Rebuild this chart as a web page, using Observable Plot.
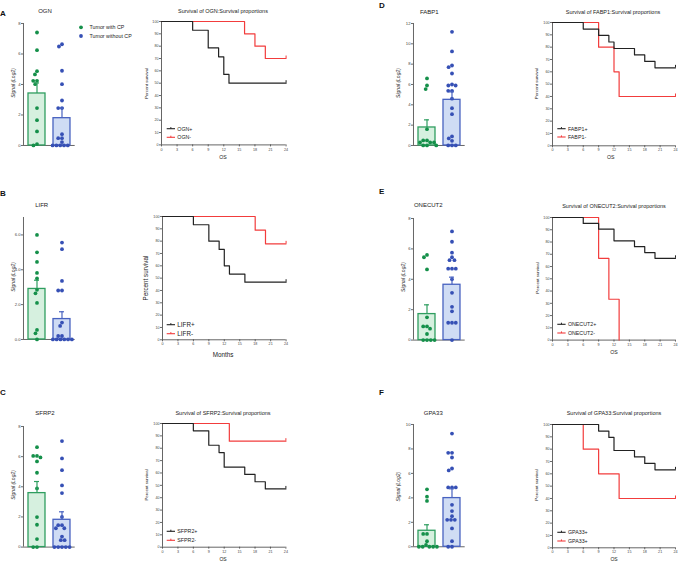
<!DOCTYPE html>
<html><head><meta charset="utf-8">
<script src="https://cdn.jsdelivr.net/npm/d3@7"></script>
<script src="https://cdn.jsdelivr.net/npm/@observablehq/plot@0.6"></script>
<style>
body{margin:0;background:#fff;}
#fig{position:relative;width:678px;height:562px;overflow:hidden;background:#fff;}
</style></head><body><div id="fig"></div>
<script>
// ---------------- DATA ----------------
const groups = ["Tumor with CP", "Tumor without CP"];

// bar charts: individual points, means, top of error bars
const ognWith = [7.41, 6.25, 4.87, 4.66, 4.24, 4.24, 4.02, 2.45, 1.66, 0.92, 0.09, 0];
const ognWithout = [6.64, 6.49, 4.9, 4.02, 2.95, 2.45, 2.45, 0.74, 0.48, 0.48, 0.22, 0, 0, 0, 0, 0];
const ognMean = [3.41, 1.79];
const ognTop = [4.1, 2.45];

const lifrWith = [6.0, 5.0, 4.45, 3.82, 3.5, 2.85, 2.65, 2.1, 0.55, 0.35, 0];
const lifrWithout = [5.56, 5.18, 3.36, 2.81, 2.81, 0.97, 0.78, 0.2, 0.2, 0, 0, 0, 0, 0, 0];
const lifrMean = [2.9, 1.17];
const lifrTop = [3.4, 1.59];

const sfrp2With = [6.63, 6.05, 6.05, 5.95, 5.68, 4.93, 3.89, 1.99, 1.48, 0.53, 0, 0];
const sfrp2Without = [7.03, 5.88, 5.1, 4.09, 3.58, 2.0, 1.45, 1.45, 1.25, 1.25, 0.7, 0.46, 0.46, 0, 0, 0, 0, 0];
const sfrp2Mean = [3.58, 1.81];
const sfrp2Top = [4.35, 2.34];

const fabp1With = [6.6, 5.9, 5.55, 1.6, 0.5, 0.5, 0.3, 0.3, 0.3, 0, 0, 0];
const fabp1Without = [11.18, 9.25, 7.87, 7.7, 7.08, 6.0, 5.9, 5.9, 5.38, 5.38, 4.6, 3.67, 3.08, 0.89, 0.69, 0.46, 0, 0, 0];
const fabp1Mean = [1.77, 4.49];
const fabp1Top = [2.52, 5.28];

const onecut2With = [5.6, 5.45, 4.65, 1.5, 0.9, 0.9, 0.75, 0.4, 0, 0, 0, 0];
const onecut2Without = [7.15, 6.47, 5.75, 5.45, 5.26, 5.26, 4.7, 4.7, 4.7, 4.0, 3.11, 2.19, 1.89, 1.14, 1.14, 1.14, 0];
const onecut2Mean = [1.71, 3.64];
const onecut2Top = [2.32, 4.14];

const gpa33With = [4.7, 4.1, 3.75, 1.05, 1.05, 0.45, 0.15, 0, 0, 0, 0, 0];
const gpa33Without = [9.26, 7.68, 7.68, 7.3, 6.4, 6.24, 4.85, 4.85, 4.85, 3.43, 2.92, 2.5, 2.2, 2.2, 2.2, 1.5, 0.46, 0, 0];
const gpa33Mean = [1.31, 3.98];
const gpa33Top = [1.8, 4.74];

const barTicks6 = [0, 2, 4, 6];
const barTicks8 = [0, 2, 4, 6, 8];
const barTicks10 = [0, 2, 4, 6, 8, 10];
const barTicks12 = [0, 2, 4, 6, 8, 10, 12];

// survival curves (time in months, percent survival)
const ognPosT = [0, 6, 9, 11, 12, 13, 24];
const ognPosS = [100, 92.9, 78.6, 71.4, 57.1, 50, 50];
const ognNegT = [0, 16, 18, 20, 24];
const ognNegS = [100, 90, 80, 70, 70];

const lifrPosT = [0, 6, 9, 11, 12, 13, 16, 24];
const lifrPosS = [100, 93.3, 80, 73.3, 60, 53.3, 46.7, 46.7];
const lifrNegT = [0, 18, 20, 24];
const lifrNegS = [100, 88.9, 77.8, 77.8];

const sfrp2PosT = [0, 6, 9, 11, 12, 16, 18, 20, 24];
const sfrp2PosS = [100, 94.1, 82.4, 76.5, 64.7, 58.8, 52.9, 47.1, 47.1];
const sfrp2NegT = [0, 13, 24];
const sfrp2NegS = [100, 85.7, 85.7];

const fabp1PosT = [0, 6, 9, 11, 12, 16, 18, 20, 24];
const fabp1PosS = [100, 94.7, 89.5, 84.2, 78.9, 73.7, 68.4, 63.2, 63.2];
const fabp1NegT = [0, 9, 12, 13, 24];
const fabp1NegS = [100, 80, 60, 40, 40];

const onecut2PosT = [0, 6, 9, 12, 16, 18, 20, 24];
const onecut2PosS = [100, 95.2, 90.5, 81, 76.2, 71.4, 66.7, 66.7];
const onecut2NegT = [0, 9, 11, 13];
const onecut2NegS = [100, 66.7, 33.3, 0];

const gpa33PosT = [0, 9, 11, 12, 16, 18, 20, 24];
const gpa33PosS = [100, 94.7, 89.5, 78.9, 73.7, 68.4, 63.2, 63.2];
const gpa33NegT = [0, 6, 9, 13, 24];
const gpa33NegS = [100, 80, 60, 40, 40];

const survTicksX = [0, 3, 6, 9, 12, 15, 18, 21, 24];
const survTicksY = [0, 10, 20, 30, 40, 50, 60, 70, 80, 90, 100];

// ---------------- STYLE ----------------
const FONT = '"Liberation Sans", Arial, Helvetica, sans-serif';
const dotColors = ["#15904a", "#3650b5"];
const barFills = ["#d6f0df", "#cfdcf4"];
const barStrokes = ["#2f9e60", "#4862c0"];
const curveColors = ["#222222", "#f23c3c"];
const axisCol = "#555";

const fig = document.getElementById("fig");

function place(svg, left, top) {
  svg.style.position = "absolute";
  svg.style.left = left + "px";
  svg.style.top = top + "px";
  fig.appendChild(svg);
}

function box(f, m) {
  return {
    left: f.x0 - m.l, top: f.y0 - m.t,
    width: f.x1 - f.x0 + m.l + m.r, height: f.y1 - f.y0 + m.t + m.b,
    marginLeft: m.l, marginTop: m.t, marginRight: m.r, marginBottom: m.b
  };
}

const plotStyle = (fs) => ({fontSize: fs, fontFamily: FONT, background: "transparent", overflow: "visible"});

function barChart(f, yDomain, yTicks, withV, withoutV, means, tops) {
  const b = box(f, {l: 20, t: 4, r: 4, b: 4});
  const dims = {
    width: b.width, height: b.height,
    marginLeft: b.marginLeft, marginTop: b.marginTop, marginRight: b.marginRight, marginBottom: b.marginBottom
  };
  // layer 1: axes
  place(Plot.plot({
    ...dims,
    x: {domain: [0, 1], axis: null, label: null},
    y: {domain: yDomain, label: null},
    style: plotStyle("4.2px"),
    marks: [
      Plot.ruleY([0], {stroke: axisCol, strokeWidth: 0.9}),
      Plot.ruleX([0], {stroke: axisCol, strokeWidth: 0.9}),
      Plot.axisY({ticks: yTicks, tickSize: 2, tickPadding: 1, color: "#444", strokeWidth: 0.8, label: null})
    ]
  }), b.left, b.top);

  const summary = groups.map((g, i) => ({group: g, mean: means[i], top: tops[i]}));
  const pts = [
    ...withV.map(v => ({group: groups[0], value: v})),
    ...withoutV.map(v => ({group: groups[1], value: v}))
  ];
  const fxScale = {domain: groups, padding: 0, axis: null, label: null};

  // layer 2: bars and individual points (one facet per group)
  const marks = [];
  groups.forEach((g, i) => {
    const s = summary.filter(d => d.group === g);
    const p = pts.filter(d => d.group === g);
    marks.push(Plot.barY(s, {fx: "group", y: "mean", fill: barFills[i], stroke: barStrokes[i], strokeWidth: 1.3, insetLeft: 4, insetRight: 4}));
    marks.push(Plot.dot(p, Plot.dodgeX({anchor: "middle", padding: 0, r: 1.9}, {fx: "group", y: "value", r: 1.9, fill: dotColors[i], stroke: "none"})));
  });
  place(Plot.plot({
    ...dims, fx: fxScale,
    y: {domain: yDomain, axis: null, label: null},
    style: plotStyle("4.2px"),
    marks
  }), b.left, b.top);

  // layer 3: error bars (mean to mean + SEM), centred in each bar
  const inBar = () => "bar";
  const emarks = [];
  groups.forEach((g, i) => {
    const s = summary.filter(d => d.group === g);
    emarks.push(Plot.ruleX(s, {fx: "group", x: inBar, y1: "mean", y2: "top", stroke: barStrokes[i], strokeWidth: 1.2}));
    emarks.push(Plot.tickY(s, {fx: "group", x: inBar, y: "top", stroke: barStrokes[i], strokeWidth: 1.2, insetLeft: 10, insetRight: 10}));
  });
  place(Plot.plot({
    ...dims, fx: fxScale,
    x: {domain: ["bar"], padding: 0, axis: null, label: null},
    y: {domain: yDomain, axis: null, label: null},
    style: plotStyle("4.2px"),
    marks: emarks
  }), b.left, b.top);
}

function survChart(f, curves) {
  const b = box(f, {l: 16, t: 4, r: 5, b: 10});
  const marks = [
    Plot.ruleX([0], {stroke: axisCol, strokeWidth: 0.9}),
    Plot.ruleY([0], {stroke: axisCol, strokeWidth: 0.9}),
    Plot.axisX({ticks: survTicksX, tickSize: 2, tickPadding: 1, color: "#444", strokeWidth: 0.8, label: null}),
    Plot.axisY({ticks: survTicksY, tickSize: 2, tickPadding: 1, color: "#444", strokeWidth: 0.8, label: null})
  ];
  // red (negative) first, black (positive) on top
  [1, 0].forEach(k => {
    const c = curves[k];
    const data = c.t.map((t, i) => ({t, s: c.s[i]}));
    marks.push(Plot.line(data, {x: "t", y: "s", curve: "step-after", stroke: curveColors[k], strokeWidth: 1.2}));
    const last = data.filter((d, i) => i === data.length - 1 && d.s > 0);
    marks.push(Plot.ruleX(last, {x: "t", y1: "s", y2: "s", insetTop: -2.5, stroke: curveColors[k], strokeWidth: 1}));
  });
  place(Plot.plot({
    width: b.width, height: b.height,
    marginLeft: b.marginLeft, marginTop: b.marginTop, marginRight: b.marginRight, marginBottom: b.marginBottom,
    x: {domain: [0, 24], label: null},
    y: {domain: [0, 100], label: null},
    style: plotStyle("3.7px"),
    marks
  }), b.left, b.top);
}

// ---------------- PANELS ----------------
barChart({x0: 23.3, x1: 75, y0: 22.7, y1: 144.7}, [0, 8], barTicks8, ognWith, ognWithout, ognMean, ognTop);
barChart({x0: 23.3, x1: 75, y0: 217.3, y1: 339.3}, [0, 7], barTicks6, lifrWith, lifrWithout, lifrMean, lifrTop);
barChart({x0: 23.3, x1: 75, y0: 425.7, y1: 546.3}, [0, 8], barTicks8, sfrp2With, sfrp2Without, sfrp2Mean, sfrp2Top);
barChart({x0: 413.3, x1: 465, y0: 22.7, y1: 144.7}, [0, 12], barTicks12, fabp1With, fabp1Without, fabp1Mean, fabp1Top);
barChart({x0: 412.7, x1: 464.4, y0: 217.7, y1: 339.3}, [0, 8], barTicks8, onecut2With, onecut2Without, onecut2Mean, onecut2Top);
barChart({x0: 412.7, x1: 464.4, y0: 424, y1: 546.3}, [0, 10], barTicks10, gpa33With, gpa33Without, gpa33Mean, gpa33Top);

survChart({x0: 160.7, x1: 285.3, y0: 21.3, y1: 144.7}, [{t: ognPosT, s: ognPosS}, {t: ognNegT, s: ognNegS}]);
survChart({x0: 161.7, x1: 285.3, y0: 216, y1: 339.3}, [{t: lifrPosT, s: lifrPosS}, {t: lifrNegT, s: lifrNegS}]);
survChart({x0: 162.3, x1: 285.7, y0: 423.3, y1: 547}, [{t: sfrp2PosT, s: sfrp2PosS}, {t: sfrp2NegT, s: sfrp2NegS}]);
survChart({x0: 552, x1: 675, y0: 22, y1: 145.3}, [{t: fabp1PosT, s: fabp1PosS}, {t: fabp1NegT, s: fabp1NegS}]);
survChart({x0: 552, x1: 675, y0: 216.7, y1: 339.3}, [{t: onecut2PosT, s: onecut2PosS}, {t: onecut2NegT, s: onecut2NegS}]);
survChart({x0: 552, x1: 675, y0: 423.7, y1: 547}, [{t: gpa33PosT, s: gpa33PosS}, {t: gpa33NegT, s: gpa33NegS}]);

// ---------------- TEXT OVERLAY ----------------
const ov = d3.select(fig).append("svg")
  .attr("width", 678).attr("height", 562)
  .style("position", "absolute").style("left", "0px").style("top", "0px")
  .attr("font-family", FONT);

function txt(s, x, y, o = {}) {
  const t = ov.append("text").attr("x", x).attr("y", y).text(s)
    .attr("font-size", o.size || 5.5)
    .attr("text-anchor", o.anchor || "middle")
    .attr("dominant-baseline", "central")
    .attr("fill", o.color || "#222");
  if (o.weight) t.attr("font-weight", o.weight);
  if (o.italic) t.attr("font-style", "italic");
  if (o.rotate) t.attr("transform", `rotate(${o.rotate},${x},${y})`);
}

function survLegend(x, y1, y2, labels, size) {
  [y1, y2].forEach((y, k) => {
    ov.append("line").attr("x1", x).attr("x2", x + 8.3).attr("y1", y).attr("y2", y)
      .attr("stroke", curveColors[k]).attr("stroke-width", 1.1);
    ov.append("line").attr("x1", x + 4.15).attr("x2", x + 4.15).attr("y1", y).attr("y2", y - 1.6)
      .attr("stroke", curveColors[k]).attr("stroke-width", 1);
    txt(labels[k], x + 10.6, y, {anchor: "start", size: size || 5.3});
  });
}

// letters
[["A", 0, 13.8], ["B", 0, 193], ["C", 0, 392], ["D", 379, 5.5], ["E", 379, 191], ["F", 379, 392.2]]
  .forEach(([l, x, y]) => txt(l, x, y, {anchor: "start", size: 8, weight: "bold", color: "#111"}));

// bar titles
txt("OGN", 45, 10.7, {size: 6});
txt("LIFR", 41.7, 205, {size: 6});
txt("SFRP2", 45, 413.3, {size: 6});
txt("FABP1", 429.3, 11.7, {size: 6});
txt("ONECUT2", 428.3, 205, {size: 6});
txt("GPA33", 433.3, 413.3, {size: 6});

// bar y labels
[[12.7, 83], [12.7, 277], [12.7, 485], [398.3, 83], [402.7, 277], [398.3, 486.7]]
  .forEach(([x, y]) => txt("Signal (Log2)", x, y, {size: 5, italic: true, rotate: -90}));

// group legend
groups.forEach((g, i) => {
  const y = [27.3, 36][i];
  ov.append("circle").attr("cx", 81).attr("cy", y).attr("r", 1.9).attr("fill", dotColors[i]);
  txt(g, 89.5, y, {anchor: "start", size: 5.3});
});

// survival titles
txt("Survival of OGN:Survival proportions", 223, 11, {size: 5.5});
txt("Survival of SFRP2:Survival proportions", 223, 413.3, {size: 5.5});
txt("Survival of FABP1:Survival proportions", 613, 11.7, {size: 5.5});
txt("Survival of ONECUT2:Survival proportions", 614, 206, {size: 5.5});
txt("Survival of GPA33:Survival proportions", 614, 413.3, {size: 5.5});

// survival y labels
txt("Percent survival", 146.7, 83.5, {size: 4.4, rotate: -90});
txt("Percent survival", 145, 278, {size: 6.3, rotate: -90});
txt("Percent survival", 146.7, 485, {size: 4.4, rotate: -90});
txt("Percent survival", 536, 83.5, {size: 4.4, rotate: -90});
txt("Percent survival", 537.3, 278, {size: 4.4, rotate: -90});
txt("Percent survival", 536, 485, {size: 4.4, rotate: -90});

// survival x labels
txt("OS", 223, 157, {size: 5.2});
txt("Months", 223, 354, {size: 6.3});
txt("OS", 223, 558.6, {size: 5});
txt("OS", 610.7, 157.3, {size: 5.2});
txt("OS", 614, 352, {size: 5.2});
txt("OS", 614, 558.6, {size: 5});

// survival legends
survLegend(166.7, 128.7, 137.3, ["OGN+", "OGN-"]);
survLegend(166.7, 324.7, 333.7, ["LIFR+", "LIFR-"], 6.3);
survLegend(166.7, 531.3, 540.3, ["SFPR2+", "SFPR2-"]);
survLegend(557.3, 128.7, 137, ["FABP1+", "FABP1-"]);
survLegend(557.3, 324.3, 333, ["ONECUT2+", "ONECUT2-"]);
survLegend(557.3, 532.3, 541, ["GPA33+", "GPA33+"]);
</script></body></html>
